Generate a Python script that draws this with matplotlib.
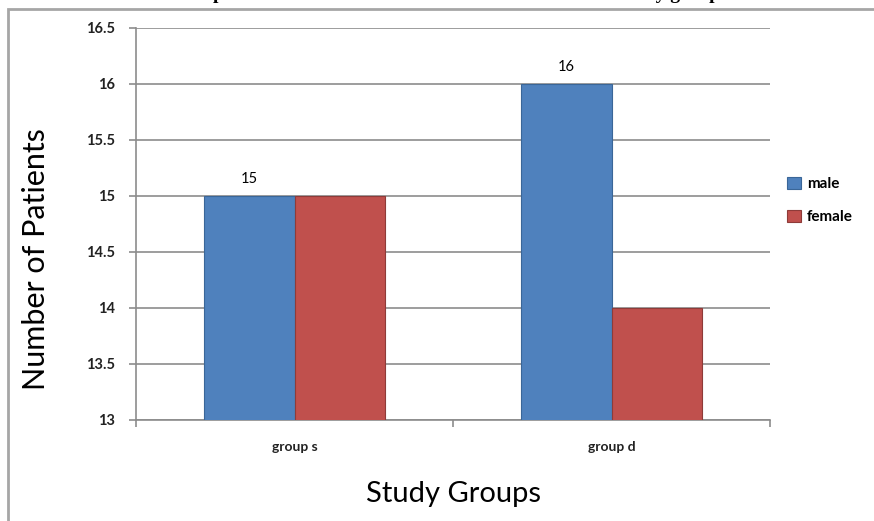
import matplotlib.pyplot as plt
from matplotlib.patches import Rectangle
import numpy as np

groups = ['group s', 'group d']
male = [15, 16]
female = [15, 14]
yticks = [13, 13.5, 14, 14.5, 15, 15.5, 16, 16.5]

blue = '#4F81BD'
red = '#C0504D'
grid_col = '#8C8C8C'

fig = plt.figure(figsize=(8.74, 5.21), dpi=100)
ax = fig.add_axes([136 / 874, 101 / 521, 634 / 874, 392 / 521])

x = np.arange(len(groups))
w = 0.284
b1 = ax.bar(x - w / 2, male, w, color=blue, edgecolor='#3A6698', linewidth=0.8, label='male', zorder=3)
b2 = ax.bar(x + w / 2, female, w, color=red, edgecolor='#8E3B39', linewidth=0.8, label='female', zorder=3)
ax.bar_label(b1, labels=[str(v) for v in male], padding=7, fontsize=10.5, fontfamily='Lato', color='black')

ax.set_ylim(13, 16.5)
ax.set_xlim(-0.5, len(groups) - 0.5)
ax.set_yticks(yticks)
ax.set_yticklabels(['13', '13.5', '14', '14.5', '15', '15.5', '16', '16.5'],
                   fontsize=10.5, fontfamily='Lato', fontweight='bold', color='#222222')
ax.yaxis.grid(True, color=grid_col, linewidth=1.2, zorder=0)

# category labels and boundary ticks
ax.set_xticks([-0.5, 0.5, 1.5])
ax.set_xticklabels([])
ax.set_xticks(x, minor=True)
ax.set_xticklabels(groups, minor=True, fontsize=10, fontfamily='Lato', fontweight='bold', color='#222222')
ax.tick_params(axis='x', which='minor', length=0, pad=15)
ax.tick_params(axis='x', which='major', length=5, color=grid_col, width=1.2)
ax.tick_params(axis='y', length=5, color=grid_col, width=1.2, pad=10)

for s in ['top', 'right']:
    ax.spines[s].set_visible(False)
for s in ['left', 'bottom']:
    ax.spines[s].set_color(grid_col)
    ax.spines[s].set_linewidth(1.2)

ax.set_ylabel('Number of Patients', fontsize=22, fontfamily='Lato')
ax.yaxis.set_label_coords(-0.135, 0.41)
ax.set_xlabel('Study Groups', fontsize=21, fontfamily='Lato', labelpad=20)

ax.legend(loc='center left', bbox_to_anchor=(1.005, 0.56), frameon=False,
          prop={'family': 'Lato', 'weight': 'bold', 'size': 11},
          handlelength=0.9, handleheight=0.9, labelspacing=1.2, handletextpad=0.4)

# outer chart frame
fig.patches.append(Rectangle((8 / 874, -0.05), 1.2, (521 - 9) / 521 + 0.05,
                             transform=fig.transFigure, fill=False,
                             edgecolor='#A6A6A6', linewidth=2, clip_on=False))

# title clipped by the top edge of the image
fig.text(0.515, 1 + 1 / 521, 'Comparison of male and female distribution between study groups',
         ha='center', va='baseline', fontsize=14, fontweight='bold', fontfamily='Liberation Serif')

fig.savefig('out.png', dpi=100)
